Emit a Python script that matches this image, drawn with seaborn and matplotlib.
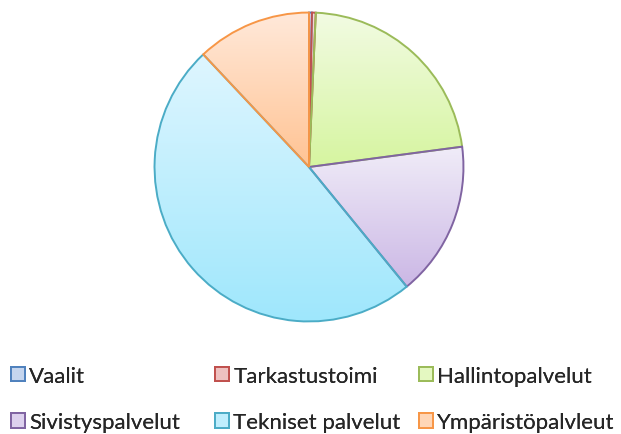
import numpy as np
import matplotlib
matplotlib.use("Agg")
import matplotlib.pyplot as plt
import seaborn as sns
from matplotlib.colors import LinearSegmentedColormap

sns.set_style("white")
plt.rcParams['font.family'] = ['Lato', 'DejaVu Sans']

# Data (share of total, %)
labels = ['Vaalit', 'Tarkastustoimi', 'Hallintopalvelut',
          'Sivistyspalvelut', 'Tekniset palvelut', 'Ympäristöpalvleut']
shares = [0.3, 0.4, 22.2, 16.2, 48.9, 12.0]

edge_colors = ['#4F81BD', '#C0504D', '#9BBB59', '#8064A2', '#4BACC6', '#F79646']
light_colors = ['#DCE6F5', '#F5D9D8', '#F2FBE3', '#F0ECF8', '#DFF6FF', '#FFE9DA']
dark_colors = ['#AFC5E7', '#E7AAA8', '#D6F5A0', '#CBB7E5', '#9FE7FC', '#FFC393']

W, H = 621, 435
fig = plt.figure(figsize=(W / 100, H / 100), dpi=100)

cx, cy, r = 309, 168, 156
ax = fig.add_axes([(cx - r) / W, (H - cy - r) / H, 2 * r / W, 2 * r / H])

mid_colors = [sns.blend_palette([l, d], 3)[1] for l, d in zip(light_colors, dark_colors)]
wedges, _ = ax.pie(shares, startangle=90, counterclock=False, colors=mid_colors,
                   wedgeprops=dict(edgecolor='none', linewidth=1.4))
for w, ec in zip(wedges, edge_colors):
    w.set_edgecolor(ec)

# legend, three columns placed like the original
handles = list(wedges)
cols = [(0, 3), (1, 4), (2, 5)]
col_x = [11, 215, 419]
for (a, b), x in zip(cols, col_x):
    leg = fig.legend([handles[a], handles[b]], [labels[a], labels[b]],
                     loc='upper left', bbox_to_anchor=(x / W, 1 - 367 / H),
                     frameon=False, fontsize=16, handlelength=0.62,
                     handleheight=0.62, handletextpad=0.2, labelspacing=1.18,
                     borderaxespad=0, borderpad=0)
    fig.add_artist(leg)

# vertical gradient fill for each slice
for w, lc, dc in zip(wedges, light_colors, dark_colors):
    ext = w.get_path().get_extents()
    cmap = LinearSegmentedColormap.from_list('g', [lc, dc])
    grad = np.linspace(0, 1, 256).reshape(-1, 1)
    im = ax.imshow(grad, cmap=cmap, aspect='auto', origin='upper',
                   extent=[ext.x0, ext.x1, ext.y0, ext.y1], zorder=1)
    im.set_clip_path(w)
    w.set_facecolor('none')
    w.set_zorder(2)

ax.set_xlim(-1.01, 1.01)
ax.set_ylim(-1.01, 1.01)
ax.axis('off')

fig.savefig('out.png', dpi=100)
